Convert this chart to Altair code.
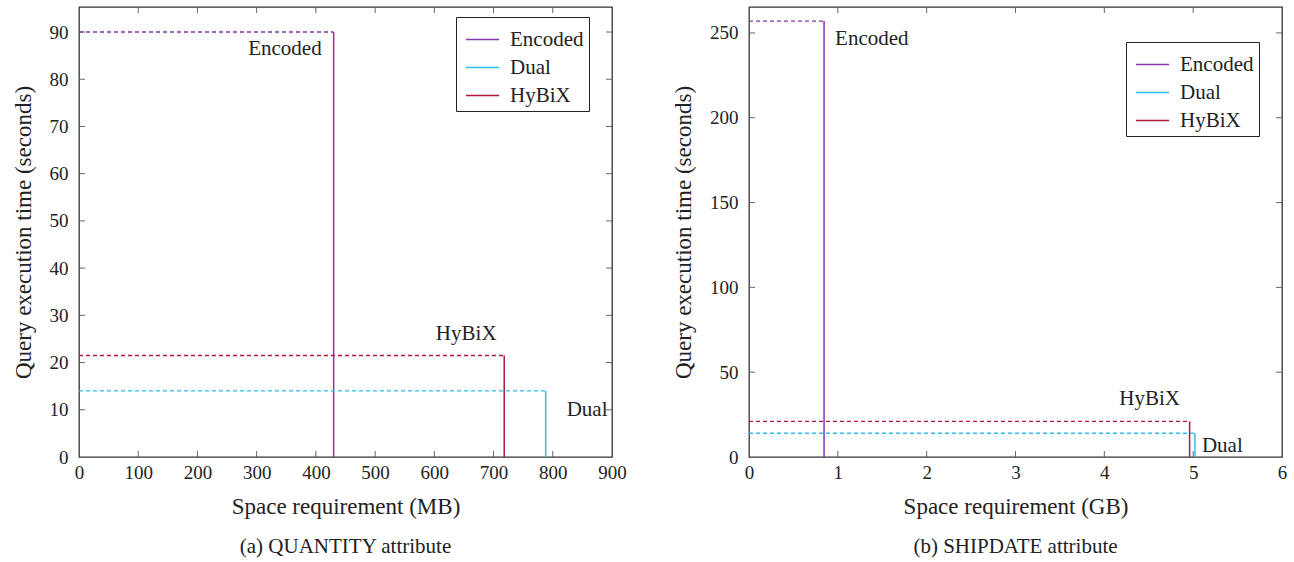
import altair as alt
import pandas as pd

# ---------------- data ----------------
series = ["Encoded", "Dual", "HyBiX"]
colors = ["#8636b3", "#2fbdef", "#b3163f"]

a_space = [430, 788, 718]        # MB
a_time = [90, 14, 21.5]          # seconds
b_space = [0.845, 5.02, 4.96]    # GB
b_time = [257, 14, 21]           # seconds

a_xticks = [0, 100, 200, 300, 400, 500, 600, 700, 800, 900]
a_yticks = [0, 10, 20, 30, 40, 50, 60, 70, 80, 90]
b_xticks = [0, 1, 2, 3, 4, 5, 6]
b_yticks = [0, 50, 100, 150, 200, 250]

FONT = "Liberation Serif"
TXT = "#222222"
W, H = 533, 450


def panel(space, time, xdom, ydom, xticks, yticks, xtitle, caption, labels, legend_xy):
    df = pd.DataFrame({"series": series, "space": space, "time": time})
    xs = alt.Scale(domain=xdom, nice=False, zero=True)
    ys = alt.Scale(domain=ydom, nice=False, zero=True)
    xaxis = alt.Axis(values=xticks, ticks=False, domain=False, grid=False, title=xtitle,
                     labelFont=FONT, labelFontSize=19, labelColor=TXT, labelPadding=6,
                     titleFont=FONT, titleFontSize=23, titleFontWeight="normal",
                     titleColor=TXT, titlePadding=13, labelFlush=False)
    yaxis = alt.Axis(values=yticks, ticks=False, domain=False, grid=False,
                     title="Query execution time (seconds)",
                     labelFont=FONT, labelFontSize=19, labelColor=TXT, labelPadding=11,
                     titleFont=FONT, titleFontSize=23, titleFontWeight="normal",
                     titleColor=TXT, titlePadding=14, labelFlush=False)
    legend = alt.Legend(orient="none", legendX=legend_xy[0], legendY=legend_xy[1], title=None,
                        strokeColor="#222222", fillColor="white", padding=5, cornerRadius=0,
                        labelFont=FONT, labelFontSize=21, labelColor=TXT, labelOffset=10,
                        symbolType="stroke", symbolSize=1100, symbolStrokeWidth=1.6,
                        symbolOffset=4, rowPadding=0)
    color = alt.Color("series:N", scale=alt.Scale(domain=series, range=colors), legend=legend)

    def X(f):
        return alt.X(f, scale=xs, axis=xaxis)

    def Y(f):
        return alt.Y(f, scale=ys, axis=yaxis)

    base = alt.Chart(df).transform_calculate(zero="0")
    vert = base.mark_rule(strokeWidth=1.5).encode(
        x=X("space:Q"), y=Y("time:Q"), y2=alt.Y2("zero:Q"), color=color,
    )
    horiz = base.mark_rule(strokeWidth=1.4, strokeDash=[4, 3]).encode(
        x=X("zero:Q"), x2=alt.X2("space:Q"), y=Y("time:Q"), color=color,
    )
    layers = [vert, horiz]

    for s, align, dx, dy in labels:
        layers.append(
            alt.Chart(df).transform_filter(alt.datum.series == s)
            .mark_text(align=align, baseline="middle", dx=dx, dy=dy, font=FONT,
                       fontSize=21, color=TXT)
            .encode(x=X("space:Q"), y=Y("time:Q"), text="series:N")
        )

    xt = pd.DataFrame({"t": xticks[1:-1]})
    yt = pd.DataFrame({"t": yticks[1:]})
    tick_col = "#666666"
    layers += [
        alt.Chart(xt).mark_rule(color=tick_col, strokeWidth=1).encode(
            x=X("t:Q"), y=alt.value(H), y2=alt.value(H - 6)),
        alt.Chart(xt).mark_rule(color=tick_col, strokeWidth=1).encode(
            x=X("t:Q"), y=alt.value(0), y2=alt.value(6)),
        alt.Chart(yt).mark_rule(color=tick_col, strokeWidth=1).encode(
            y=Y("t:Q"), x=alt.value(0), x2=alt.value(6)),
        alt.Chart(yt).mark_rule(color=tick_col, strokeWidth=1).encode(
            y=Y("t:Q"), x=alt.value(W), x2=alt.value(W - 6)),
    ]

    return alt.layer(*layers).properties(
        width=W, height=H,
        title=alt.TitleParams(caption, orient="bottom", font=FONT, fontSize=21,
                              fontWeight="normal", color=TXT, offset=18),
    )


left = panel(a_space, a_time, [0, 900], [0, 95.3], a_xticks, a_yticks,
             "Space requirement (MB)", "(a) QUANTITY attribute",
             [("Encoded", "right", -12, 17), ("HyBiX", "center", -38, -21),
              ("Dual", "left", 21, 19)],
             (377, 10))
right = panel(b_space, b_time, [0, 6], [0, 265.3], b_xticks, b_yticks,
              "Space requirement (GB)", "(b) SHIPDATE attribute",
              [("Encoded", "left", 11, 18), ("HyBiX", "center", -40, -22),
               ("Dual", "left", 7, 13)],
              (377, 35))

chart = alt.hconcat(left, right, spacing=44).resolve_scale(color="independent").properties(
    padding={"left": 11, "top": 5, "right": 5, "bottom": 5}
).configure_view(stroke="#333333", strokeWidth=1.3)

chart.save("out.html", embed_options={"renderer": "svg", "actions": False})
